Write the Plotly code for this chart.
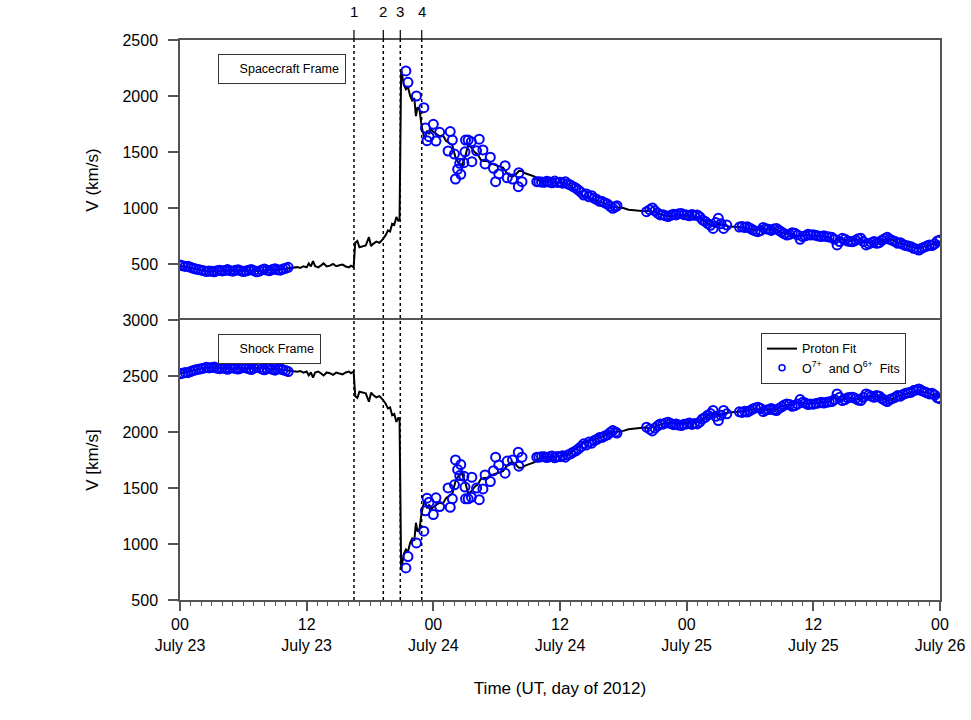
import plotly.graph_objects as go
from plotly.subplots import make_subplots

# hours after 2012-07-23 00:00 UT
proton_hours = [
    0, 0.5, 1, 1.5, 2, 2.5, 3, 3.5, 4, 4.5, 5, 5.5, 6, 6.5, 7, 7.5, 8, 8.5, 9, 9.5, 10, 10.5,
    10.8, 11.1, 11.4, 11.7, 12.0, 12.2, 12.4, 12.6, 12.8, 13.1, 13.4, 13.6, 13.9, 14.2, 14.5,
    14.8, 15.1, 15.4, 15.7, 16.0, 16.2, 16.45,
    16.6, 16.8, 17.0, 17.3, 17.6, 17.9, 18.1, 18.3, 18.6, 18.9, 19.2, 19.5, 19.7, 19.9, 20.1,
    20.3, 20.5, 20.7, 20.8,
    20.95, 21.2, 21.4, 21.6, 21.8, 22.0, 22.2, 22.35, 22.5, 22.7, 22.85, 23.0, 23.2, 23.4, 23.6,
    23.8, 24.0, 24.3, 24.6, 24.9, 25.2, 25.5, 25.8, 26.1, 26.4, 26.7, 27.0, 27.3, 27.6, 27.9,
    28.2, 28.5, 28.8, 29.1, 29.4, 29.7, 30.0, 30.3, 30.6, 30.9, 31.2, 31.5, 31.8, 32.1, 32.4,
    32.7, 33.0, 33.3, 33.6, 33.9,
    34.5, 35.0, 35.5, 36.0, 36.5, 37.0, 37.5, 38.0, 38.5, 39.0, 39.5, 40.0, 40.5, 41.0, 41.5,
    42.0, 42.5, 43.0, 43.5, 44.0, 44.5, 45.0, 45.5, 46.0, 46.5, 47.0, 47.5, 48.0, 48.5, 49.0,
    49.5, 50.0, 50.5, 51.0, 51.5, 52.0, 52.5, 53.0, 53.5, 54.0, 54.5, 55.0, 55.5, 56.0, 56.5,
    57.0, 57.5, 58.0, 58.5, 59.0, 59.5, 60.0, 60.5, 61.0, 61.5, 62.0, 62.5, 63.0, 63.5, 64.0,
    64.5, 65.0, 65.5, 66.0, 66.5, 67.0, 67.5, 68.0, 68.5, 69.0, 69.5, 70.0, 70.5, 71.0, 71.5, 72.0,
]
proton_v_sc = [
    485, 475, 468, 455, 445, 435, 432, 438, 440, 442, 440, 438, 440, 445, 438, 435, 442, 448, 445, 452, 458, 462,
    468, 472, 465, 480, 470, 505, 478, 525, 480, 470, 490, 505, 478, 485, 500,
    480, 488, 495, 478, 470, 485, 470,
    690, 705, 650, 660, 665, 740, 660, 680, 700, 690, 720, 760, 800, 790, 860,
    850, 920, 880, 900,
    2240, 2100, 2060, 2080, 2000, 1960, 1980, 1820, 1900, 1870, 1760, 1680, 1620, 1690, 1660,
    1700, 1680, 1660, 1640, 1650, 1600, 1580, 1560, 1450, 1400, 1380, 1450, 1560, 1540, 1500,
    1480, 1430, 1420, 1420, 1400, 1390, 1380, 1370, 1360, 1320, 1290, 1280, 1300, 1330, 1330,
    1310, 1300, 1290, 1280, 1250,
    1240, 1235, 1232, 1228, 1222, 1200, 1160, 1120, 1100, 1085, 1065, 1050, 1030, 1010, 1005,
    1000, 985, 980, 975, 970, 975, 960, 945, 930, 925, 935, 935, 930, 925, 920,
    895, 860, 840, 860, 845, 835, 832, 830, 820, 815, 800, 815, 810, 805, 810,
    780, 770, 770, 745, 755, 760, 750, 748, 745, 740, 700, 725, 715, 705, 715,
    720, 690, 695, 690, 705, 730, 715, 690, 680, 665, 650, 640, 655, 665, 690, 700,
]
proton_v_shock = [
    2525, 2535, 2542, 2555, 2565, 2575, 2578, 2572, 2570, 2568, 2570, 2572, 2570, 2565, 2572, 2575, 2568, 2562, 2565, 2558, 2552, 2548,
    2542, 2538, 2545, 2530, 2540, 2505, 2532, 2485, 2530, 2540, 2520, 2505, 2532, 2525, 2510,
    2530, 2522, 2515, 2532, 2540, 2525, 2540,
    2320, 2305, 2360, 2350, 2345, 2270, 2350, 2330, 2310, 2320, 2290, 2250, 2210, 2220, 2150,
    2160, 2090, 2130, 2110,
    770, 910, 950, 930, 1010, 1050, 1030, 1190, 1110, 1140, 1250, 1330, 1390, 1320, 1350,
    1310, 1330, 1350, 1370, 1360, 1410, 1430, 1450, 1560, 1610, 1630, 1560, 1450, 1470, 1510,
    1530, 1580, 1590, 1590, 1610, 1620, 1630, 1640, 1650, 1690, 1720, 1730, 1710, 1680, 1680,
    1700, 1710, 1720, 1730, 1760,
    1770, 1775, 1778, 1782, 1788, 1810, 1850, 1890, 1910, 1925, 1945, 1960, 1980, 2000, 2005,
    2010, 2025, 2030, 2035, 2040, 2035, 2050, 2065, 2080, 2085, 2075, 2075, 2080, 2085, 2090,
    2115, 2150, 2170, 2150, 2165, 2175, 2178, 2180, 2190, 2195, 2210, 2195, 2200, 2205, 2200,
    2230, 2240, 2240, 2265, 2255, 2250, 2260, 2262, 2265, 2270, 2310, 2285, 2295, 2305, 2295,
    2290, 2320, 2315, 2320, 2305, 2280, 2295, 2320, 2330, 2345, 2360, 2370, 2355, 2345, 2320, 2310,
]

ion_hours = [
    0, 0.25, 0.5, 0.75, 1.0, 1.25, 1.5, 1.75, 2.0, 2.25, 2.5, 2.75, 3.0, 3.25, 3.5, 3.75, 4.0,
    4.25, 4.5, 4.75, 5.0, 5.25, 5.5, 5.75, 6.0, 6.25, 6.5, 6.75, 7.0, 7.25, 7.5, 7.75, 8.0,
    8.25, 8.5, 8.75, 9.0, 9.25, 9.5, 9.75, 10.0, 10.25,
    21.4, 21.6, 22.4, 23.1, 23.25, 23.4, 23.6, 24.0, 24.25, 24.6, 25.4, 25.6, 25.8, 26.0, 26.1,
    26.3, 26.5, 26.6, 26.9, 27.0, 27.05, 27.3, 27.6, 27.65, 28.1, 28.35, 28.7, 28.9, 29.4, 29.7,
    29.9, 30.2, 30.8, 31.0, 31.5, 32.05, 32.1, 32.4,
    33.8, 34.0, 34.25, 34.5, 34.75, 35.0, 35.25, 35.5, 35.75, 36.0, 36.25, 36.5, 36.75, 37.0,
    37.25, 37.5, 37.75, 38.0, 38.25, 38.5, 38.75, 39.0, 39.25, 39.5, 39.75, 40.0, 40.25, 40.5,
    40.75, 41.0, 41.25, 41.4,
    44.2, 44.5, 44.75, 45.0, 45.25, 45.5, 45.75, 46.0, 46.25, 46.5, 46.75, 47.0, 47.25, 47.5,
    47.75, 48.0, 48.25, 48.5, 48.75, 49.0, 49.25, 49.5, 49.75, 50.0, 50.25, 50.5, 50.75, 51.0,
    51.25, 51.5, 51.8,
    53.0, 53.25, 53.5, 53.75, 54.0, 54.25, 54.5, 54.75, 55.0, 55.25, 55.5, 55.75, 56.0, 56.25,
    56.5, 56.75, 57.0, 57.25, 57.5, 57.75, 58.0, 58.25, 58.5, 58.75, 59.0, 59.25, 59.5, 59.75,
    60.0, 60.25, 60.5, 60.75, 61.0, 61.25, 61.5, 61.75, 62.0, 62.25, 62.5, 62.75, 63.0, 63.25,
    63.5, 63.75, 64.0, 64.25, 64.5, 64.75, 65.0, 65.25, 65.5, 65.75, 66.0, 66.25, 66.5, 66.75,
    67.0, 67.25, 67.5, 67.75, 68.0, 68.25, 68.5, 68.75, 69.0, 69.25, 69.5, 69.75, 70.0, 70.25,
    70.5, 70.75, 71.0, 71.25, 71.5, 71.75, 72.0,
]
ion_v_sc = [
    490, 485, 478, 480, 470, 462, 455, 450, 445, 440, 432, 438, 435, 430, 440, 445, 438,
    442, 450, 440, 436, 444, 448, 440, 432, 438, 445, 452, 440, 430, 436, 447, 455,
    445, 440, 450, 458, 448, 445, 455, 462, 470,
    2224, 2122, 2000, 1896, 1714, 1601, 1637, 1747, 1598, 1676, 1509, 1682, 1607, 1482, 1259,
    1345, 1399, 1301, 1405, 1502, 1607, 1607, 1592, 1414, 1511, 1614, 1518, 1393, 1453, 1355,
    1235, 1304, 1378, 1270, 1259, 1190, 1315, 1235,
    1235, 1235, 1232, 1230, 1238, 1232, 1225, 1240, 1228, 1230, 1222, 1235, 1215, 1205,
    1190, 1178, 1160, 1140, 1116, 1125, 1100, 1110, 1086, 1075, 1060, 1057, 1045, 1035,
    1015, 997, 1010, 1020,
    967, 985, 1000, 975, 955, 938, 940, 930, 923, 935, 945, 938, 948, 952,
    940, 938, 930, 942, 935, 938, 920, 893, 880, 860, 845, 818, 870, 908,
    860, 818, 848,
    830, 835, 825, 832, 820, 805, 795, 789, 800, 827, 815, 810, 800, 812,
    818, 800, 785, 770, 759, 765, 780, 774, 760, 720, 745, 752, 765, 759,
    762, 755, 750, 745, 752, 745, 740, 738, 720, 670, 700, 729, 720, 705,
    700, 699, 712, 725, 729, 700, 670, 680, 690, 700, 685, 690, 712, 725,
    738, 720, 710, 700, 685, 690, 675, 665, 660, 655, 640, 635, 625, 640,
    650, 660, 670, 665, 680, 705, 714,
]
ion_v_shock = [
    2520, 2525, 2532, 2530, 2540, 2548, 2555, 2560, 2565, 2570, 2578, 2572, 2575, 2580, 2570, 2565, 2572,
    2568, 2560, 2570, 2574, 2566, 2562, 2570, 2578, 2572, 2565, 2558, 2570, 2580, 2574, 2563, 2555,
    2565, 2570, 2560, 2552, 2562, 2565, 2555, 2548, 2540,
    786, 888, 1010, 1114, 1296, 1409, 1373, 1263, 1412, 1334, 1501, 1328, 1403, 1528, 1751,
    1665, 1611, 1709, 1605, 1508, 1403, 1403, 1418, 1596, 1499, 1396, 1492, 1617, 1557, 1655,
    1775, 1706, 1632, 1740, 1751, 1820, 1695, 1775,
    1775, 1775, 1778, 1780, 1772, 1778, 1785, 1770, 1782, 1780, 1788, 1775, 1795, 1805,
    1820, 1832, 1850, 1870, 1894, 1885, 1910, 1900, 1924, 1935, 1950, 1953, 1965, 1975,
    1995, 2013, 2000, 1990,
    2043, 2025, 2010, 2035, 2055, 2072, 2070, 2080, 2087, 2075, 2065, 2072, 2062, 2058,
    2070, 2072, 2080, 2068, 2075, 2072, 2090, 2117, 2130, 2150, 2165, 2192, 2140, 2102,
    2150, 2192, 2162,
    2180, 2175, 2185, 2178, 2190, 2205, 2215, 2221, 2210, 2183, 2195, 2200, 2210, 2198,
    2192, 2210, 2225, 2240, 2251, 2245, 2230, 2236, 2250, 2290, 2265, 2258, 2245, 2251,
    2248, 2255, 2260, 2265, 2258, 2265, 2270, 2272, 2290, 2340, 2310, 2281, 2290, 2305,
    2310, 2311, 2298, 2285, 2281, 2310, 2340, 2330, 2320, 2310, 2325, 2320, 2298, 2285,
    2272, 2290, 2300, 2310, 2325, 2320, 2335, 2345, 2350, 2355, 2370, 2375, 2385, 2370,
    2360, 2350, 2340, 2345, 2330, 2305, 2296,
]

event_hours = [16.48, 19.26, 20.87, 22.9]
event_labels = ["1", "2", "3", "4"]

tick_hours = [0, 12, 24, 36, 48, 60, 72]
tick_text = ["00<br>July 23", "12<br>July 23", "00<br>July 24", "12<br>July 24",
             "00<br>July 25", "12<br>July 25", "00<br>July 26"]

assert len(proton_hours) == len(proton_v_sc) == len(proton_v_shock)
assert len(ion_hours) == len(ion_v_sc) == len(ion_v_shock)

FONT = "Arial, Liberation Sans, sans-serif"
AXIS = "#555555"
ION_NAME = "O<sup>7+</sup>  and O<sup>6+</sup>  Fits"

fig = make_subplots(rows=2, cols=1, shared_xaxes=True, vertical_spacing=0)

for row, pv, iv in [(1, proton_v_sc, ion_v_sc), (2, proton_v_shock, ion_v_shock)]:
    fig.add_trace(go.Scatter(
        x=proton_hours, y=pv, mode="lines", name="Proton Fit",
        line=dict(color="black", width=2), showlegend=(row == 2),
    ), row=row, col=1)
    fig.add_trace(go.Scatter(
        x=ion_hours, y=iv, mode="markers", name=ION_NAME,
        marker=dict(symbol="circle-open", size=9, color="#0000ff",
                    line=dict(width=2, color="#0000ff")),
        showlegend=False,
    ), row=row, col=1)

# legend entry only, with the small circle the reference legend shows
fig.add_trace(go.Scatter(
    x=[None], y=[None], mode="markers", name=ION_NAME,
    marker=dict(symbol="circle-open", size=6, color="#0000ff",
                line=dict(width=1.5, color="#0000ff")),
), row=2, col=1)

common_y = dict(showline=True, linecolor=AXIS, linewidth=1.5, mirror=True,
                ticks="outside", ticklen=10, tickcolor=AXIS, tickwidth=1.5,
                showgrid=False, zeroline=False, tickfont=dict(size=16),
                ticklabelstandoff=7, title_standoff=20, title_font=dict(size=17),
                automargin=False)
fig.update_yaxes(range=[0, 2500], tickvals=[500, 1000, 1500, 2000, 2500],
                 title_text="V (km/s)", row=1, col=1, **common_y)
fig.update_yaxes(range=[500, 3000], tickvals=[500, 1000, 1500, 2000, 2500, 3000],
                 title_text="V [km/s]", row=2, col=1, **common_y)

fig.update_xaxes(range=[0, 72], showgrid=False, zeroline=False, automargin=False)
# top panel: only its upper frame line; the shared boundary comes from the lower panel
fig.update_xaxes(side="top", showline=True, linecolor=AXIS, linewidth=1.5, mirror=False,
                 ticks="", showticklabels=False, row=1, col=1)
fig.update_xaxes(showline=True, linecolor=AXIS, linewidth=1.5, mirror=True,
                 tickvals=tick_hours, ticktext=tick_text, ticks="outside",
                 ticklen=9, tickwidth=1.5, tickcolor=AXIS, tickfont=dict(size=16),
                 minor=dict(tickmode="linear", tick0=0, dtick=1, ticks="outside",
                            ticklen=4, tickcolor=AXIS, tickwidth=1),
                 title_text="Time (UT, day of 2012)", title_font=dict(size=17),
                 title_standoff=29, row=2, col=1)

# event markers across both panels
for h, lab in zip(event_hours, event_labels):
    fig.add_shape(type="line", xref="x2", yref="paper", x0=h, x1=h, y0=0, y1=1,
                  line=dict(color="black", width=1.5, dash="dot"))
    fig.add_shape(type="line", xref="x2", yref="paper", x0=h, x1=h, y0=1, y1=1.018,
                  line=dict(color="black", width=1.2))
    fig.add_annotation(x=h, y=1.05, xref="x2", yref="paper", text=lab,
                       showarrow=False, font=dict(size=15), yanchor="middle")

box = dict(xref="paper", yref="paper", showarrow=False, xanchor="left", yanchor="top",
           align="right", bordercolor="#333333", borderwidth=1, borderpad=6,
           bgcolor="white", font=dict(size=12.5), height=16)
fig.add_annotation(text="Spacecraft Frame", x=0.05, y=0.975, width=114, **box)
fig.add_annotation(text="Shock Frame", x=0.05, y=0.475, width=89, **box)

fig.update_layout(
    width=971, height=720,
    margin=dict(l=180, r=31, t=40, b=120),
    plot_bgcolor="white", paper_bgcolor="white",
    font=dict(family=FONT, color="black"),
    legend=dict(x=0.7645, y=0.4768, xanchor="left", yanchor="top",
                bordercolor="#333333", borderwidth=1, bgcolor="white",
                font=dict(size=12.5), tracegroupgap=0),
)

# drop the default page margin so the figure sits at the window's corner
fig.write_html("out.html", config={"displayModeBar": False},
               post_script="document.body.style.margin = '0';")
